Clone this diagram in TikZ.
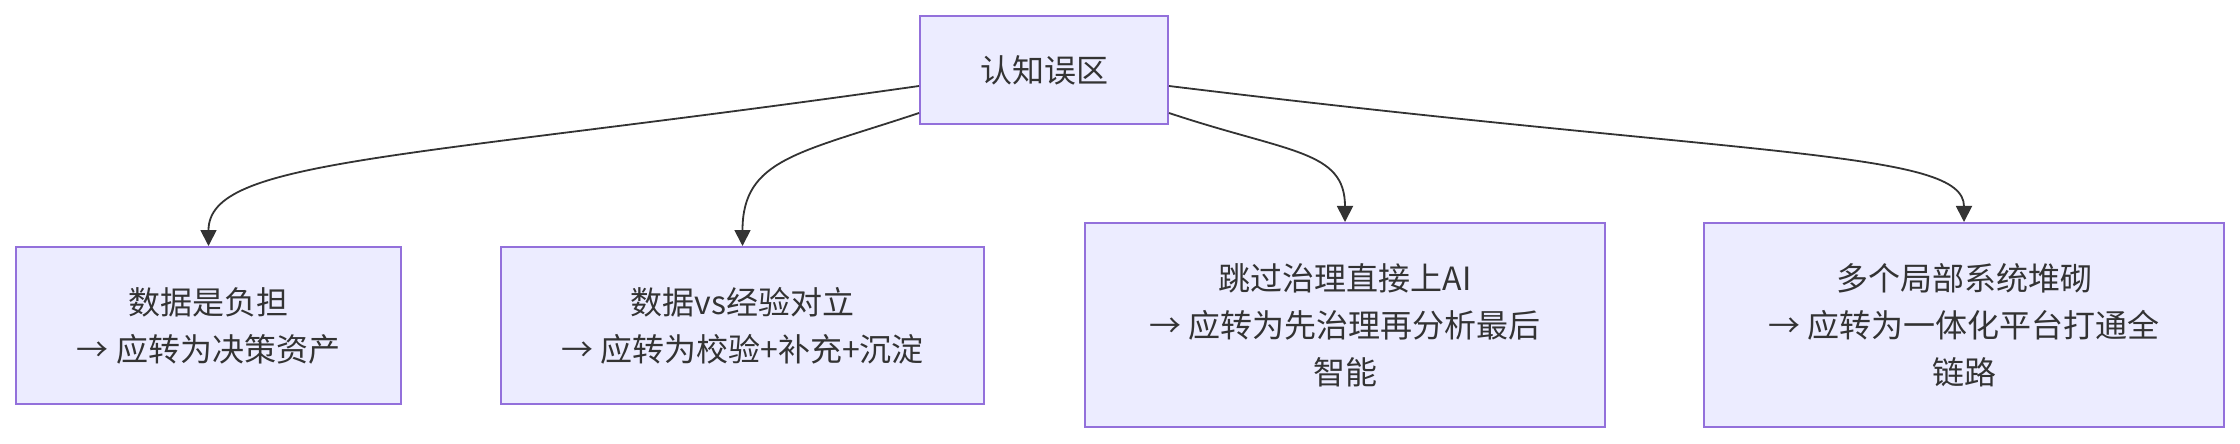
\documentclass[tikz,border=0pt]{standalone}
\usepackage{fontspec}
\setmainfont{Noto Sans CJK SC}
\usetikzlibrary{arrows.meta,calc}
\definecolor{boxfill}{HTML}{ECECFF}
\definecolor{boxline}{HTML}{9370DB}
\definecolor{ink}{HTML}{333333}
\begin{document}
\begin{tikzpicture}[x=0.5pt,y=-0.5pt,
  box/.style={draw=boxline,fill=boxfill,line width=1pt,text=ink,align=center,
    inner sep=0pt,font=\fontsize{16}{23.5}\selectfont},
  arr/.style={draw=ink,line width=0.9pt,-{Triangle[length=8pt,width=8pt]}}]
\useasboundingbox (0,0) rectangle (2240,444);
\node[box,minimum width=124pt,minimum height=54pt] (top) at (1044,70) {认知误区};
\node[box,minimum width=192.5pt,minimum height=78.5pt] (b1) at (208.5,325.5) {数据是负担\\→ 应转为决策资产};
\node[box,minimum width=241.5pt,minimum height=78.5pt] (b2) at (742.5,325.5) {数据vs经验对立\\→ 应转为校验+补充+沉淀};
\node[box,minimum width=260pt,minimum height=102pt] (b3) at (1345,325) {跳过治理直接上AI\\→ 应转为先治理再分析最后\\智能};
\node[box,minimum width=260pt,minimum height=102pt] (b4) at (1964,325) {多个局部系统堆砌\\→ 应转为一体化平台打通全\\链路};
\draw[arr] ($(top.west)+(0,16)$) .. controls +(-520,74) and +(0,-87) .. (b1.north);
\draw[arr] ($(top.west)+(0,43)$) .. controls +(-120,40) and +(0,-87) .. (b2.north);
\draw[arr] ($(top.east)+(0,43)$) .. controls +(120,40) and +(0,-72) .. (b3.north);
\draw[arr] ($(top.east)+(0,16)$) .. controls +(590,72) and +(0,-72) .. (b4.north);
\end{tikzpicture}
\end{document}
